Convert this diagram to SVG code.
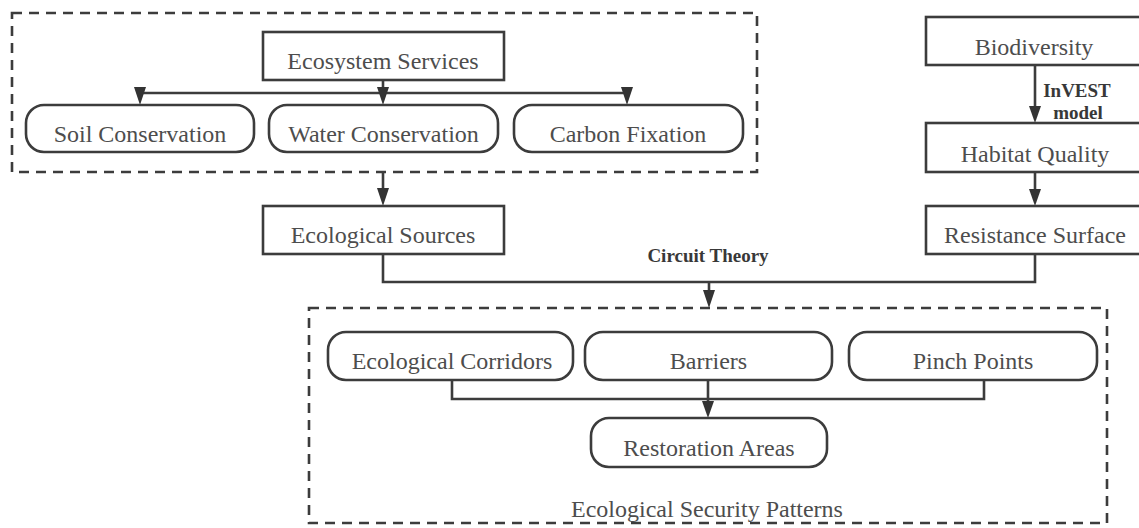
<svg xmlns="http://www.w3.org/2000/svg" width="1139" height="528" viewBox="0 0 1139 528">
<style>
.box{fill:#fff;stroke:#3c3c3c;stroke-width:2.6}
.grp{fill:none;stroke:#3c3c3c;stroke-width:2.6;stroke-dasharray:10 7}
.ln{fill:none;stroke:#3c3c3c;stroke-width:2.6}
.ah{fill:#333}
.t{font-family:"Liberation Serif",serif;font-size:24px;fill:#4d4d4d;text-anchor:middle}
.b{font-family:"Liberation Serif",serif;font-size:19px;font-weight:bold;fill:#383838;text-anchor:middle}
</style>
<defs>
<marker id="arr" markerWidth="12" markerHeight="18" refX="6" refY="18" orient="auto" markerUnits="userSpaceOnUse" viewBox="0 0 12 18">
<path d="M0,0 L12,0 L6,18 Z" class="ah"/>
</marker>
</defs>
<rect width="1139" height="528" fill="#fff"/>

<g id="group-ecosystem">
<rect class="grp" x="12" y="13" width="745" height="159"/>
</g>
<g id="group-security">
<rect class="grp" x="309" y="308" width="798" height="215"/>
<text class="t" x="707" y="517">Ecological Security Patterns</text>
</g>

<g id="connectors">
<path class="ln" d="M383,80 V93 M140,93 H627"/>
<path class="ah" d="M134,87 H146 L140,105 Z"/>
<path class="ah" d="M377,87 H389 L383,105 Z"/>
<path class="ah" d="M621,87 H633 L627,105 Z"/>
<path class="ln" d="M383,172 V190"/>
<path class="ah" d="M377,188 H389 L383,206 Z"/>
<path class="ln" d="M1035,65 V110"/>
<path class="ah" d="M1029,106 H1041 L1035,123 Z"/>
<path class="ln" d="M1035,172 V192"/>
<path class="ah" d="M1029,189 H1041 L1035,206 Z"/>
<path class="ln" d="M383,254 V282 H1035 V254 M709,282 V294"/>
<path class="ah" d="M703,290 H715 L709,308 Z"/>
<path class="ln" d="M452,380 V399 H984 V380 M708,380 V405"/>
<path class="ah" d="M702,401 H714 L708,418 Z"/>
<text class="b" x="708" y="262">Circuit Theory</text>
<text class="b" x="1077" y="97">InVEST</text>
<text class="b" x="1078" y="119">model</text>
</g>

<g id="ecosystem-services">
<rect class="box" x="263" y="32" width="241" height="48"/>
<text class="t" x="383" y="69">Ecosystem Services</text>
</g>
<g id="soil-conservation">
<rect class="box" x="26" y="105" width="228" height="47" rx="18"/>
<text class="t" x="140" y="142">Soil Conservation</text>
</g>
<g id="water-conservation">
<rect class="box" x="269" y="105" width="229" height="47" rx="18"/>
<text class="t" x="383.5" y="142">Water Conservation</text>
</g>
<g id="carbon-fixation">
<rect class="box" x="514" y="105" width="229" height="47" rx="18"/>
<text class="t" x="628" y="142">Carbon Fixation</text>
</g>
<g id="ecological-sources">
<rect class="box" x="263" y="206" width="241" height="48"/>
<text class="t" x="383" y="243">Ecological Sources</text>
</g>
<g id="biodiversity">
<rect class="box" x="926" y="17" width="218" height="48"/>
<text class="t" x="1034" y="55">Biodiversity</text>
</g>
<g id="habitat-quality">
<rect class="box" x="926" y="123" width="218" height="49"/>
<text class="t" x="1035" y="162">Habitat Quality</text>
</g>
<g id="resistance-surface">
<rect class="box" x="926" y="206" width="218" height="48"/>
<text class="t" x="1035" y="243">Resistance Surface</text>
</g>
<g id="ecological-corridors">
<rect class="box" x="328" y="332" width="245" height="48" rx="18"/>
<text class="t" x="452" y="369">Ecological Corridors</text>
</g>
<g id="barriers">
<rect class="box" x="585" y="332" width="247" height="48" rx="18"/>
<text class="t" x="708.5" y="369">Barriers</text>
</g>
<g id="pinch-points">
<rect class="box" x="849" y="332" width="248" height="48" rx="18"/>
<text class="t" x="973" y="369">Pinch Points</text>
</g>
<g id="restoration-areas">
<rect class="box" x="591" y="418" width="236" height="49" rx="18"/>
<text class="t" x="709" y="456">Restoration Areas</text>
</g>
</svg>
